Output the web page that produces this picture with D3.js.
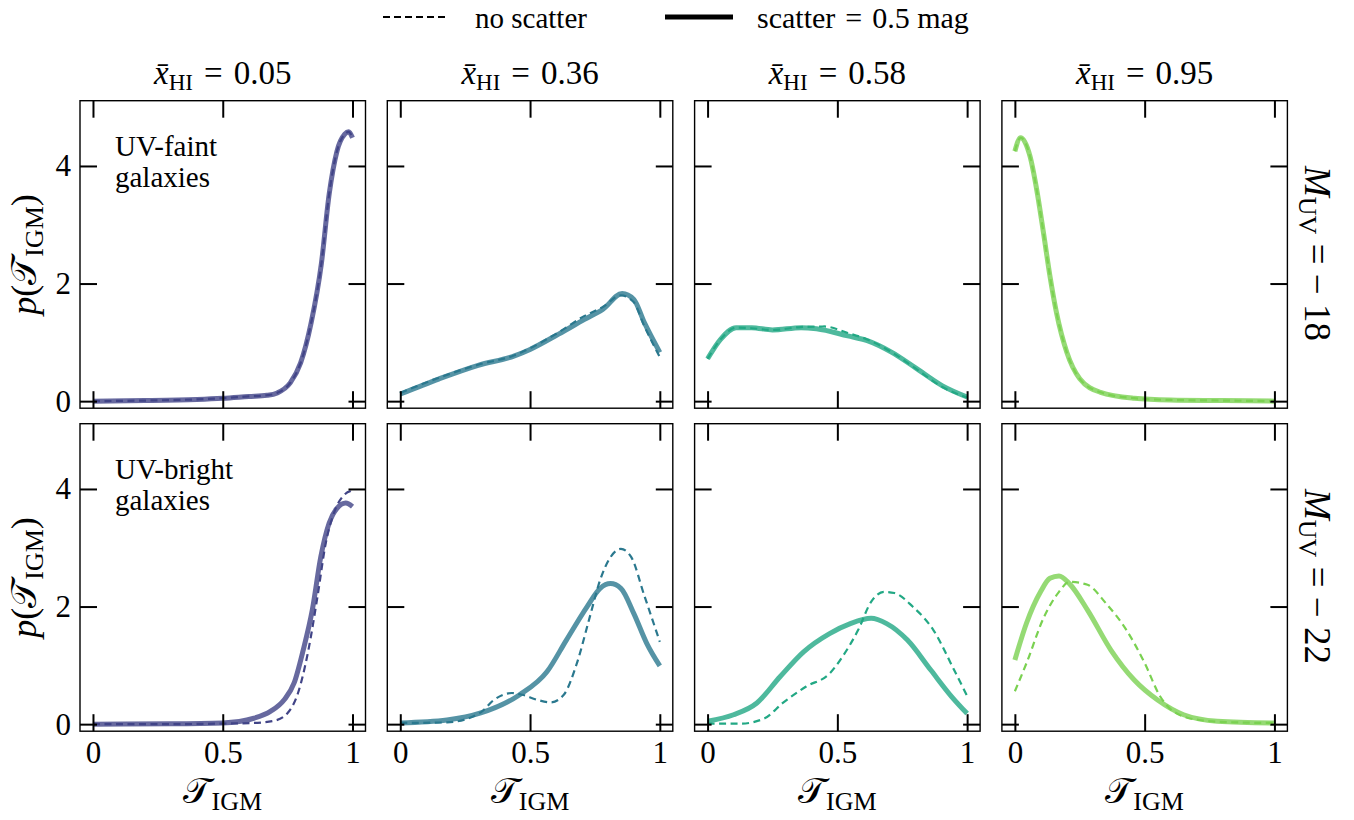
<!DOCTYPE html>
<html>
<head>
<meta charset="utf-8">
<script src="https://cdn.jsdelivr.net/npm/d3@7"></script>
<style>
  body { margin: 0; background: #fff; }
  svg { display: block; }
  text { font-family: "Liberation Serif", "Times New Roman", serif; fill: #000; }
  .tick line { stroke: #000; stroke-width: 2; }
  .tick text { font-size: 31px; }
</style>
</head>
<body>
<script>
// x-bar_HI values for the columns, M_UV for the rows
const xHI = ['0.05', '0.36', '0.58', '0.95'];
const muv = ['18', '22'];
const rowNotes = [['UV-faint', 'galaxies'], ['UV-bright', 'galaxies']];
const xTicks = [0, 0.5, 1];
const xTickLabels = ['0', '0.5', '1'];
const yTicks = [0, 2, 4];
const colColors = ['#414487', '#2a788e', '#22a884', '#7ad151'];

// [tau, p] pairs
// top row: M_UV = -18 (UV-faint)
const faint05Solid = [[0,0],[0.2,0.01],[0.4,0.03],[0.5,0.05],[0.6,0.08],[0.67,0.1],[0.71,0.14],[0.76,0.31],[0.8,0.65],[0.84,1.32],[0.88,2.34],[0.91,3.52],[0.94,4.25],[0.97,4.54],[0.985,4.58],[1,4.48]];
const faint05Dash  = [[0,0],[0.2,0.01],[0.4,0.03],[0.5,0.05],[0.6,0.08],[0.67,0.1],[0.71,0.14],[0.76,0.31],[0.8,0.65],[0.84,1.32],[0.88,2.34],[0.91,3.52],[0.94,4.25],[0.97,4.54],[0.985,4.58],[1,4.48]];
const faint36Solid = [[0,0.12],[0.15,0.38],[0.3,0.61],[0.44,0.77],[0.5,0.88],[0.61,1.14],[0.71,1.39],[0.78,1.56],[0.855,1.83],[0.9,1.73],[0.94,1.34],[1,0.83]];
const faint36Dash  = [[0,0.14],[0.15,0.4],[0.3,0.62],[0.44,0.78],[0.5,0.9],[0.61,1.17],[0.71,1.45],[0.78,1.6],[0.85,1.8],[0.9,1.68],[0.94,1.28],[1,0.75]];
const faint58Solid = [[0,0.72],[0.05,1.05],[0.11,1.25],[0.17,1.25],[0.25,1.21],[0.36,1.25],[0.42,1.23],[0.54,1.11],[0.615,1.03],[0.71,0.83],[0.8,0.57],[0.905,0.26],[1,0.07]];
const faint58Dash  = [[0,0.72],[0.05,1.05],[0.11,1.25],[0.17,1.24],[0.25,1.21],[0.36,1.26],[0.45,1.27],[0.54,1.16],[0.615,1.05],[0.71,0.83],[0.8,0.56],[0.905,0.24],[1,0.06]];
const faint95Solid = [[0,4.25],[0.022,4.48],[0.058,4.17],[0.084,3.6],[0.11,2.87],[0.135,2.13],[0.16,1.51],[0.2,0.83],[0.25,0.38],[0.33,0.15],[0.46,0.05],[0.6,0.02],[0.8,0.01],[1,0]];
const faint95Dash  = [[0,4.25],[0.022,4.48],[0.058,4.17],[0.084,3.6],[0.11,2.87],[0.135,2.13],[0.16,1.51],[0.2,0.83],[0.25,0.38],[0.33,0.15],[0.46,0.05],[0.6,0.02],[0.8,0.01],[1,0]];
// bottom row: M_UV = -22 (UV-bright)
const bright05Solid = [[0,0],[0.3,0.005],[0.5,0.02],[0.62,0.1],[0.685,0.22],[0.736,0.41],[0.775,0.7],[0.81,1.26],[0.845,1.94],[0.878,2.85],[0.91,3.42],[0.94,3.67],[0.974,3.76],[1,3.7]];
const bright05Dash  = [[0,0],[0.3,0],[0.5,0.01],[0.62,0.02],[0.7,0.06],[0.75,0.19],[0.79,0.53],[0.83,1.26],[0.865,2.17],[0.897,3.08],[0.93,3.61],[0.968,3.9],[0.99,3.96],[1,3.93]];
const bright36Solid = [[0,0.02],[0.18,0.07],[0.31,0.19],[0.46,0.5],[0.565,0.89],[0.64,1.43],[0.72,2.0],[0.77,2.31],[0.81,2.39],[0.85,2.31],[0.9,1.88],[0.95,1.37],[1,0.99]];
const bright36Dash  = [[0,0.02],[0.18,0.03],[0.31,0.2],[0.36,0.41],[0.43,0.53],[0.47,0.5],[0.53,0.41],[0.58,0.37],[0.63,0.5],[0.68,1.03],[0.73,1.82],[0.77,2.45],[0.81,2.84],[0.85,2.98],[0.89,2.84],[0.94,2.19],[1,1.4]];
const bright58Solid = [[0,0.05],[0.1,0.16],[0.19,0.36],[0.28,0.81],[0.37,1.23],[0.47,1.54],[0.55,1.71],[0.63,1.8],[0.69,1.71],[0.77,1.43],[0.86,0.92],[0.94,0.47],[1,0.18]];
const bright58Dash  = [[0,0.01],[0.13,0.01],[0.22,0.1],[0.29,0.36],[0.38,0.64],[0.47,0.86],[0.52,1.15],[0.58,1.6],[0.63,2.08],[0.68,2.25],[0.72,2.23],[0.79,2.0],[0.87,1.6],[0.95,0.92],[1,0.48]];
const bright95Solid = [[0,1.09],[0.045,1.72],[0.1,2.26],[0.135,2.48],[0.17,2.52],[0.21,2.39],[0.28,1.94],[0.37,1.26],[0.46,0.75],[0.55,0.41],[0.65,0.16],[0.78,0.05],[1,0.02]];
const bright95Dash  = [[0,0.56],[0.045,1.04],[0.11,1.8],[0.17,2.25],[0.21,2.42],[0.28,2.37],[0.35,2.06],[0.43,1.6],[0.5,1.04],[0.56,0.47],[0.61,0.22],[0.71,0.07],[0.85,0.03],[1,0.02]];

const solidRows = [[faint05Solid, faint36Solid, faint58Solid, faint95Solid],
                   [bright05Solid, bright36Solid, bright58Solid, bright95Solid]];
const dashRows  = [[faint05Dash, faint36Dash, faint58Dash, faint95Dash],
                   [bright05Dash, bright36Dash, bright58Dash, bright95Dash]];

const W = 1354, H = 820;
const panelW = 285.5, panelH = 307.5;
const lefts = [80, 387.3, 694.6, 1001.9];
const tops = [100.7, 423.7];
const tickLen = 17;
const TAU = '\u{1D4AF}';

const svg = d3.select('body').append('svg')
  .attr('width', W).attr('height', H);

const x = d3.scaleLinear().domain([-0.05, 1.05]).range([0, panelW]);
const y = d3.scaleLinear().domain([-0.12, 5.11]).range([panelH, 0]);

const line = d3.line()
  .x(d => x(d[0]))
  .y(d => y(d[1]))
  .curve(d3.curveMonotoneX);

solidRows.forEach((row, r) => {
  row.forEach((solid, c) => {
    const g = svg.append('g')
      .attr('transform', `translate(${lefts[c]},${tops[r]})`);

    // curves
    g.append('path')
      .attr('d', line(solid))
      .attr('fill', 'none')
      .attr('stroke', colColors[c])
      .attr('stroke-opacity', 0.8)
      .attr('stroke-width', 5);
    g.append('path')
      .attr('d', line(dashRows[r][c]))
      .attr('fill', 'none')
      .attr('stroke', colColors[c])
      .attr('stroke-width', 2.2)
      .attr('stroke-dasharray', '7,4.5');

    // inward ticks on all sides
    const bottom = g.append('g')
      .attr('transform', `translate(0,${panelH})`)
      .call(d3.axisBottom(x).tickValues(xTicks)
        .tickFormat((d, i) => xTickLabels[i])
        .tickSize(-tickLen).tickPadding(10));
    if (r === 0) bottom.selectAll('text').remove();
    g.append('g')
      .call(d3.axisTop(x).tickValues(xTicks).tickFormat('').tickSize(-tickLen));
    const left = g.append('g')
      .call(d3.axisLeft(y).tickValues(yTicks).tickFormat(d3.format('d'))
        .tickSize(-tickLen).tickPadding(9));
    if (c > 0) left.selectAll('text').remove();
    g.append('g')
      .attr('transform', `translate(${panelW},0)`)
      .call(d3.axisRight(y).tickValues(yTicks).tickFormat('').tickSize(-tickLen));
    g.selectAll('.domain').remove();

    g.append('rect')
      .attr('width', panelW).attr('height', panelH)
      .attr('fill', 'none').attr('stroke', '#000').attr('stroke-width', 1.4);

    // column titles
    if (r === 0) {
      const t = g.append('text')
        .attr('x', panelW / 2).attr('y', -17)
        .attr('text-anchor', 'middle')
        .style('font-size', '33px');
      t.append('tspan').attr('font-style', 'italic').text('x\u0304');
      t.append('tspan').attr('font-size', '23px').attr('dy', 6).text('HI');
      t.append('tspan').attr('dy', -6).text('\u2004=\u2004' + xHI[c]);
    }

    // x labels
    if (r === 1) {
      const t = g.append('text')
        .attr('x', panelW / 2).attr('y', panelH + 72)
        .attr('text-anchor', 'middle')
        .style('font-size', '36px');
      t.append('tspan').text(TAU);
      t.append('tspan').attr('font-size', '26px').attr('dy', 7).text('IGM');
    }

    // y labels and notes
    if (c === 0) {
      const t = g.append('text')
        .attr('transform', `translate(-44,${panelH / 2}) rotate(-90)`)
        .attr('text-anchor', 'middle')
        .style('font-size', '36px');
      t.append('tspan').attr('font-style', 'italic').text('p');
      t.append('tspan').text('(' + TAU);
      t.append('tspan').attr('font-size', '26px').attr('dy', 7).text('IGM');
      t.append('tspan').attr('dy', -7).text(')');

      rowNotes[r].forEach((s, i) => {
        g.append('text')
          .attr('x', 35).attr('y', 55 + i * 31)
          .style('font-size', '29px')
          .text(s);
      });
    }

    // row labels on the right
    if (c === 3) {
      const t = g.append('text')
        .attr('transform', `translate(${panelW + 18},${panelH / 2 - 1}) rotate(90)`)
        .attr('text-anchor', 'middle')
        .style('font-size', '37px');
      t.append('tspan').attr('font-style', 'italic').text('M');
      t.append('tspan').attr('font-size', '26px').attr('dy', 6).text('UV');
      t.append('tspan').attr('dy', -6).text(' = \u2212 ' + muv[r]);
    }
  });
});

// legend
const legend = svg.append('g');
legend.append('line')
  .attr('x1', 383).attr('x2', 446).attr('y1', 17).attr('y2', 17)
  .attr('stroke', '#000').attr('stroke-width', 2)
  .attr('stroke-dasharray', '7,4');
legend.append('text').attr('x', 475).attr('y', 28)
  .style('font-size', '29px').text('no scatter');
legend.append('line')
  .attr('x1', 665).attr('x2', 733).attr('y1', 17).attr('y2', 17)
  .attr('stroke', '#000').attr('stroke-width', 5);
legend.append('text').attr('x', 757).attr('y', 28)
  .style('font-size', '30px').text('scatter\u2004=\u20040.5 mag');
</script>
</body>
</html>
